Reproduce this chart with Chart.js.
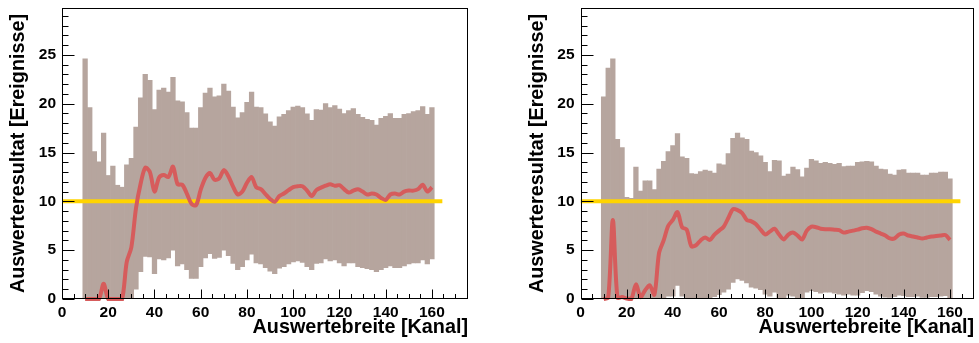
<!DOCTYPE html>
<html><head><meta charset="utf-8">
<script src="https://cdn.jsdelivr.net/npm/chart.js@4.4.1/dist/chart.umd.min.js"></script>
<style>
html,body{margin:0;padding:0;background:#fff;}
#wrap{position:relative;width:979px;height:343px;overflow:hidden;}
.p{position:absolute;top:0;height:343px;}
</style></head><body>
<div id="wrap">
<div class="p" style="left:0;width:489px"><canvas id="c1" width="489" height="343"></canvas></div>
<div class="p" style="left:489px;width:490px"><canvas id="c2" width="490" height="343"></canvas></div>
</div>
<script>
// Bin centres (Auswertebreite, Kanal)
const channels = [10,12,14,16,18,20,22,24,26,28,30,32,34,36,38,40,42,44,46,48,50,52,54,56,58,60,62,64,66,68,70,72,74,76,78,80,82,84,86,88,90,92,94,96,98,100,102,104,106,108,110,112,114,116,118,120,122,124,126,128,130,132,134,136,138,140,142,144,146,148,150,152,154,156,158,160];

// Left panel
const leftUpper = [24.6,19.6,15.1,14.05,17.0,12.65,13.6,11.65,11.45,13.75,14.4,17.6,20.6,23.0,22.4,19.4,21.4,21.6,21.2,22.7,20.3,20.2,19.1,17.5,17.5,19.6,21.1,21.6,20.7,20.8,22.0,21.3,19.65,18.55,19.1,20.15,21.2,19.65,19.6,18.95,18.15,17.7,18.65,18.9,19.3,19.65,19.75,19.6,18.95,18.3,19.4,19.35,20.0,19.6,19.8,19.45,19.0,19.3,19.5,18.9,18.6,18.4,18.3,17.8,18.5,18.7,19.0,18.5,18.5,18.9,19.0,19.2,19.3,19.7,18.9,19.6];
const leftLower = [0,0,0,0,0,0,0,0,0,0,0,1.0,2.8,4.35,4.3,2.6,4.1,4.0,4.2,5.0,3.4,3.6,3.0,2.1,2.1,3.3,4.2,4.65,4.15,4.25,5.0,4.45,3.65,3.0,3.3,4.0,4.6,3.7,3.6,3.2,2.85,2.6,3.15,3.3,3.6,3.8,3.9,3.75,3.3,3.0,3.65,3.7,4.1,3.9,4.0,3.7,3.4,3.7,3.7,3.3,3.2,3.1,3.0,2.8,3.0,3.2,3.4,3.2,3.2,3.4,3.6,3.7,3.7,4.0,3.6,4.1];
const leftResult = [0,0,0,0,1.55,0,0,0,0,3.8,5.3,9.3,11.8,13.45,13.0,11.0,12.45,12.7,12.5,13.55,11.75,11.7,10.8,9.75,9.6,11.2,12.4,12.9,12.2,12.35,13.2,12.55,11.5,10.7,11.0,11.9,12.5,11.45,11.25,10.75,10.25,9.95,10.55,10.8,11.15,11.45,11.55,11.55,11.1,10.55,11.15,11.4,11.6,11.75,11.6,11.65,11.25,10.9,11.1,11.25,11.0,10.7,10.8,10.7,10.35,10.15,10.7,10.8,10.7,11.0,11.1,11.1,11.25,11.7,11.0,11.45];

// Right panel
const rightUpper = [20.7,23.65,24.6,16.35,15.5,10.4,10.3,13.5,11.05,12.1,12.1,11.2,13.3,14.1,15.1,15.7,16.95,14.55,14.4,12.85,12.8,13.05,13.2,13.1,12.9,13.85,13.75,14.9,16.45,17.0,16.5,16.35,15.15,15.0,14.65,14.0,13.05,14.2,14.15,12.6,12.8,13.5,13.25,12.5,13.4,14.3,14.15,13.9,14.0,13.9,13.8,13.9,13.55,13.6,13.6,14.0,14.05,14.1,14.05,13.6,13.3,13.25,12.8,12.7,13.2,13.25,12.9,12.9,12.9,12.7,12.7,12.9,12.9,13.0,13.0,12.3];
const rightLower = [0,0,0,0,0,0,0,0,0,0,0,0,0,0,0.3,0.3,1.4,0.3,0,0,0,0,0,0,0.25,0.45,0.7,1.0,1.7,2.05,1.9,1.65,1.2,1.1,0.95,0.5,0.3,0.7,0,0,0.4,0.3,0,0,0.7,0.85,0.75,0.6,0.7,0.7,0.6,0.5,0.4,0.5,0.4,0.4,0.65,0.85,0.75,0.5,0.3,0.2,0.15,0.25,0.4,0.35,0.25,0.25,0.3,0.15,0.15,0.25,0.25,0.3,0.35,0.1];
const rightResult = [0,0.15,8.1,0.15,0.2,0.05,0,1.5,0.2,0.9,1.4,0.45,4.7,6.0,7.5,8.1,8.9,7.35,7.1,5.4,5.5,6.0,6.3,6.05,6.6,7.0,7.4,8.3,9.2,9.1,8.8,8.1,7.95,7.65,7.1,6.6,6.9,7.2,6.6,6.1,6.6,6.8,6.5,6.1,7.0,7.4,7.35,7.2,7.15,7.15,7.1,7.05,6.8,6.9,7.0,7.1,7.25,7.3,7.15,6.9,6.7,6.5,6.2,6.2,6.6,6.7,6.5,6.4,6.3,6.2,6.3,6.4,6.45,6.5,6.55,6.05];

// Reference level
const refLineX = [0, 164.5];
const refLineY = [10, 10];

const xTickLabels = ['0','20','40','60','80','100','120','140','160'];
const yTickLabels = ['0','5','10','15','20','25'];

const FONT = "'Liberation Sans', Arial, Helvetica, sans-serif";
const BAND = 'rgb(182,165,158)';
const RED = 'rgb(214,92,92)';
const YELLOW = 'rgb(255,212,0)';

const framePlugin = {
  id: 'frame',
  afterDatasetsDraw(chart, args, o) {
    const {ctx, chartArea: a, scales: {x, y}} = chart;
    ctx.save();
    ctx.strokeStyle = '#000';
    ctx.lineWidth = 1;
    const L = Math.round(a.left) + 0.5, R = Math.round(a.right) - 0.5;
    const T = Math.round(a.top) + 0.5, B = Math.round(a.bottom) - 0.5;
    ctx.strokeRect(L, T, R - L, B - T);
    ctx.beginPath();
    for (let v = 0; v <= x.max + 1e-6; v += 5) {
      const px = Math.round(x.getPixelForValue(v)) + 0.5;
      const len = (v % 20 === 0) ? o.xMajor : o.xMinor;
      ctx.moveTo(px, B); ctx.lineTo(px, B - len);
    }
    for (let v = 0; v <= y.max + 1e-6; v += 1) {
      const py = Math.round(y.getPixelForValue(v)) + 0.5;
      const len = (v % 5 === 0) ? o.yMajor : o.yMinor;
      ctx.moveTo(L, py); ctx.lineTo(L + len, py);
    }
    ctx.stroke();
    ctx.restore();
  }
};

function makeChart(id, lower, upper, result, cfg) {
  const band = channels.map((c, i) => ({x: c, y: [lower[i], upper[i]]}));
  const line = channels.map((c, i) => ({x: c, y: result[i]}));
  const ref = refLineX.map((xv, i) => ({x: xv, y: refLineY[i]}));
  return new Chart(document.getElementById(id), {
    data: {
      datasets: [
        {type: 'bar', data: band, backgroundColor: BAND, borderWidth: 0,
         barPercentage: 1, categoryPercentage: 1, order: 3},
        {type: 'line', data: ref, borderColor: YELLOW, borderWidth: 4,
         pointRadius: 0, fill: false, order: 2},
        {type: 'line', data: line, borderColor: RED, borderWidth: 4,
         pointRadius: 0, fill: false, tension: 0.3, order: 1, clip: 4}
      ]
    },
    options: {
      responsive: false, animation: false, devicePixelRatio: 1,
      layout: {padding: {left: 0, top: 8, right: cfg.padRight, bottom: 0}},
      plugins: {legend: {display: false}, tooltip: {enabled: false},
                frame: {xMajor: 9, xMinor: 4.5, yMajor: cfg.yMajor, yMinor: cfg.yMinor}},
      scales: {
        x: {
          type: 'linear', min: 0, max: cfg.xMax, offset: false,
          grid: {display: false, drawTicks: false}, border: {display: false},
          afterBuildTicks(s) { s.ticks = xTickLabels.map(t => ({value: Number(t)})); },
          ticks: {includeBounds: false, autoSkip: false, maxRotation: 0, padding: 4, color: '#000',
                  font: {family: FONT, size: 15.5, weight: 'bold'},
                  callback: (v) => xTickLabels[xTickLabels.indexOf(String(v))]},
          title: {display: true, text: 'Auswertebreite [Kanal]', align: 'end', color: '#000',
                  font: {family: FONT, size: 19.8, weight: 'bold'}, padding: {top: 0, bottom: 4}},
          afterFit(s) { s.height = 44; s.paddingLeft = 0; s.paddingRight = 0; }
        },
        y: {
          type: 'linear', min: 0, max: 29.8,
          grid: {display: false, drawTicks: false}, border: {display: false},
          afterBuildTicks(s) { s.ticks = yTickLabels.map(t => ({value: Number(t)})); },
          ticks: {includeBounds: false, autoSkip: false, padding: 6, color: '#000',
                  font: {family: FONT, size: 15.5, weight: 'bold'},
                  callback: (v) => yTickLabels[yTickLabels.indexOf(String(v))]},
          title: {display: true, text: 'Auswerteresultat [Ereignisse]', align: 'center', color: '#000',
                  font: {family: FONT, size: 19.8, weight: 'bold'}, padding: {top: cfg.yTitlePad, bottom: 0}},
          afterFit(s) { s.width = cfg.yWidth; s.paddingTop = 0; s.paddingBottom = 0; }
        }
      }
    },
    plugins: [framePlugin]
  });
}

makeChart('c1', leftLower, leftUpper, leftResult,
  {xMax: 175.6, padRight: 21, yWidth: 62, yTitlePad: 7, yMajor: 12, yMinor: 6});
makeChart('c2', rightLower, rightUpper, rightResult,
  {xMax: 170.4, padRight: 5, yWidth: 91.5, yTitlePad: 37, yMajor: 12, yMinor: 6});
</script>
</body></html>
